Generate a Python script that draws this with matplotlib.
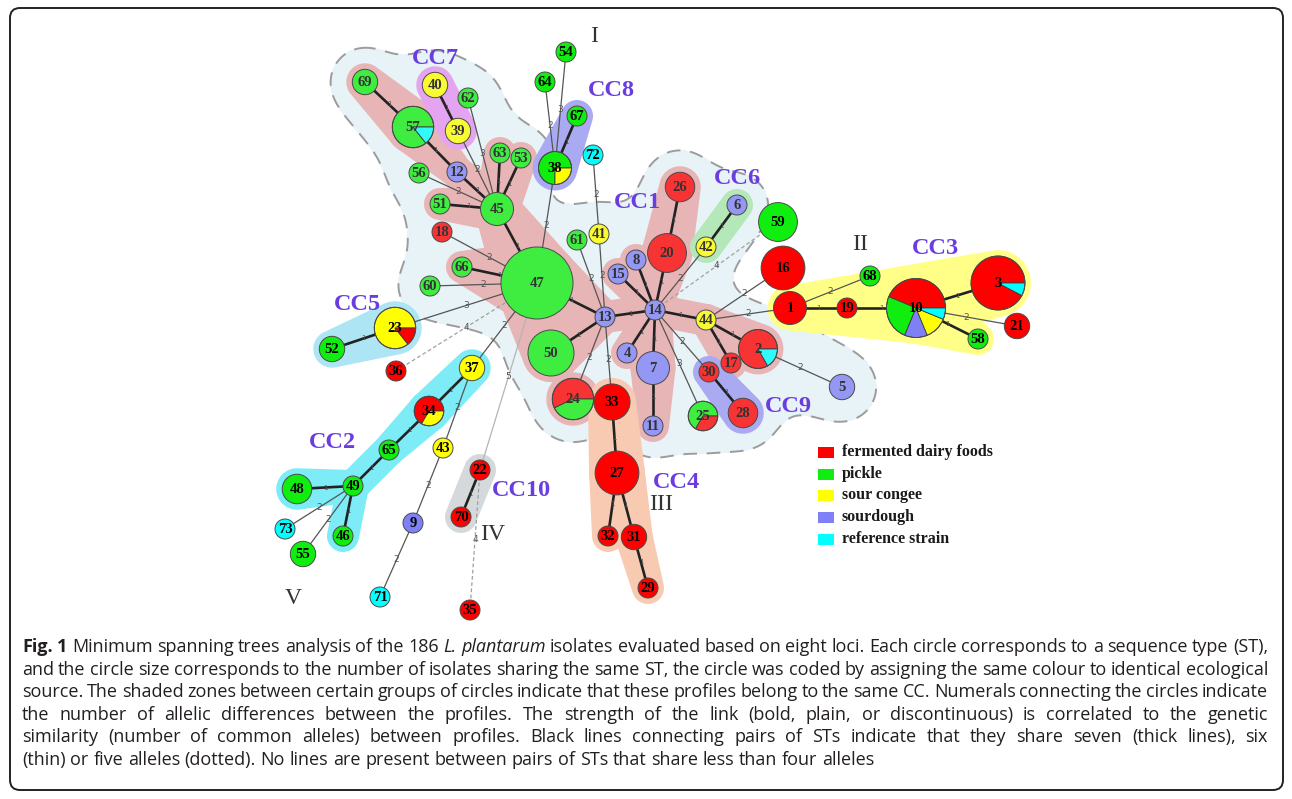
import numpy as np
import matplotlib
matplotlib.use("Agg")
import matplotlib.pyplot as plt
from matplotlib.patches import Wedge, Circle, Polygon, FancyBboxPatch, Rectangle

# ------------------------------------------------------------------
# sequence types (ST 1..73): position in the tree and isolates per source
# ------------------------------------------------------------------
st_ids = list(range(1, 74))
st_x = [790, 758, 998, 627, 842, 737, 653, 636, 413, 916,
        653, 457, 605, 655, 618, 783, 731, 442, 847, 667,
        1017, 480, 395, 573, 703, 680, 617, 743, 648, 709,
        634, 608, 612, 429, 470, 396, 472, 555, 458, 435,
        599, 706, 443, 706, 497, 343, 537, 297, 353, 551,
        440, 332, 521, 566, 303, 419, 413, 978, 778, 430,
        577, 468, 500, 545, 389, 462, 577, 870, 365, 461,
        380, 593, 285]
st_y = [308, 349, 283, 353, 387, 205, 368, 260, 523, 308,
        426, 172, 317, 310, 274, 268, 363, 232, 308, 253,
        326, 470, 328, 399, 416, 187, 473, 413, 588, 372,
        537, 536, 402, 411, 610, 371, 368, 168, 131, 85,
        234, 247, 448, 320, 209, 536, 283, 489, 486, 353,
        204, 349, 158, 52, 554, 173, 127, 339, 222, 286,
        240, 98, 153, 82, 450, 267, 116, 276, 82, 517,
        597, 155, 529]

n_dairy = [4, 5, 12, 0, 0, 0, 0, 0, 0, 7,
           0, 0, 0, 0, 0, 8, 1, 1, 1, 6,
           2, 1, 1, 4, 1, 3, 8, 3, 1, 1,
           2, 1, 5, 2, 1, 1, 0, 0, 0, 0,
           0, 0, 0, 0, 0, 0, 0, 0, 0, 0,
           0, 0, 0, 0, 0, 0, 0, 0, 0, 0,
           0, 0, 0, 0, 0, 0, 0, 0, 0, 1,
           0, 0, 0]
n_pickle = [0, 0, 0, 0, 0, 0, 0, 0, 0, 4,
            0, 0, 0, 0, 0, 0, 0, 0, 0, 0,
            0, 0, 0, 3, 2, 0, 0, 0, 0, 0,
            0, 0, 0, 0, 0, 0, 0, 3, 0, 0,
            0, 0, 0, 0, 4, 1, 25, 3, 1, 9,
            1, 2, 1, 1, 2, 1, 6, 1, 6, 1,
            1, 1, 1, 1, 1, 1, 1, 1, 2, 0,
            0, 0, 0]
n_congee = [0, 0, 0, 0, 0, 0, 0, 0, 0, 2,
            0, 0, 0, 0, 0, 0, 0, 0, 0, 0,
            0, 0, 6, 0, 0, 0, 0, 0, 0, 0,
            0, 0, 0, 1, 0, 0, 2, 1, 2, 2,
            1, 1, 1, 1, 0, 0, 0, 0, 0, 0,
            0, 0, 0, 0, 0, 0, 0, 0, 0, 0,
            0, 0, 0, 0, 0, 0, 0, 0, 0, 0,
            0, 0, 0]
n_sourdough = [0, 0, 0, 1, 2, 1, 4, 1, 1, 2,
               1, 1, 1, 1, 1, 0, 0, 0, 0, 0,
               0, 0, 0, 0, 0, 0, 0, 0, 0, 0,
               0, 0, 0, 0, 0, 0, 0, 0, 0, 0,
               0, 0, 0, 0, 0, 0, 0, 0, 0, 0,
               0, 0, 0, 0, 0, 0, 0, 0, 0, 0,
               0, 0, 0, 0, 0, 0, 0, 0, 0, 0,
               0, 0, 0]
n_reference = [0, 1, 1, 0, 0, 0, 0, 0, 0, 1,
               0, 0, 0, 0, 0, 0, 0, 0, 0, 0,
               0, 0, 0, 0, 0, 0, 0, 0, 0, 0,
               0, 0, 0, 0, 0, 0, 0, 0, 0, 0,
               0, 0, 0, 0, 0, 0, 0, 0, 0, 0,
               0, 0, 0, 0, 0, 0, 1, 0, 0, 0,
               0, 0, 0, 0, 0, 0, 0, 0, 0, 0,
               1, 1, 1]

# tree links: (ST a, ST b, number of allelic differences)
edge_a = [69, 57, 12, 40, 39, 62, 56, 63, 53, 51, 45, 18, 66, 60, 23, 36, 37, 22,
          38, 64, 54, 67, 72, 41, 61, 47, 50, 13, 24, 33, 14, 14, 14, 20, 14, 42,
          14, 14, 14, 14, 7, 14, 14, 30, 44, 44, 44, 44, 2, 1, 19, 1, 10, 10, 10,
          23, 37, 34, 65, 49, 49, 49, 49, 37, 43, 9, 22, 22, 33, 27, 27, 31]
edge_b = [57, 12, 45, 39, 45, 45, 45, 45, 45, 45, 47, 47, 47, 47, 47, 47, 47, 47,
          47, 38, 38, 38, 41, 13, 13, 13, 13, 14, 13, 13, 8, 15, 20, 26, 42, 6,
          59, 44, 4, 7, 11, 30, 25, 28, 17, 2, 16, 1, 5, 19, 10, 68, 3, 58, 21,
          52, 34, 65, 49, 48, 46, 73, 55, 43, 9, 71, 70, 35, 27, 32, 31, 29]
edge_w = [1, 1, 1, 1, 2, 3, 2, 1, 1, 1, 1, 2, 1, 2, 3, 4, 2, 5,
          2, 2, 3, 1, 2, 2, 2, 1, 1, 1, 2, 2, 1, 1, 1, 1, 2, 1,
          4, 1, 1, 1, 1, 2, 3, 1, 1, 1, 2, 2, 2, 1, 1, 2, 1, 1, 2,
          1, 1, 1, 1, 1, 1, 2, 2, 2, 2, 2, 1, 4, 1, 1, 1, 1]

# STs inside the large dashed group I
group_one = [69, 57, 40, 39, 62, 12, 56, 63, 53, 51, 45, 18, 66, 60, 47, 50, 61,
             41, 13, 14, 15, 8, 20, 26, 6, 42, 44, 4, 7, 11, 2, 17, 30, 28, 5, 24, 25]

# clonal complexes: groups of STs whose padded hulls make the shaded zone
cc_names = ["CC1", "CC7", "CC8", "CC6", "CC9", "CC3", "CC5", "CC2", "CC10", "CC4"]
cc_hulls = [
    [(69, 57), (57, 12), (12, 45), (45, 51), (45, 63), (45, 53), (45, 47), (47, 66),
     (47, 13), (47, 50), (50, 13), (13, 14), (14, 8), (14, 15), (14, 20), (20, 26),
     (14, 4), (14, 7), (7, 11), (14, 44), (44, 17), (44, 2), (24,)],
    [(40, 39)],
    [(38, 67)],
    [(42, 6)],
    [(30, 28)],
    [(1, 19, 10, 3), (10, 58)],
    [(23, 52)],
    [(37, 34), (34, 65), (65, 49), (49, 48), (49, 46)],
    [(22, 70)],
    [(33, 27), (27, 32), (27, 31), (31, 29)],
]
cc_colors = ["#e8b5b7", "#e4a4ef", "#a9aaf2", "#b5e8b8", "#a9aaf2",
             "#ffff88", "#ade5f5", "#7eecf7", "#d6d9db", "#f8cab2"]
cc_label_x = [637, 435, 611, 737, 788, 935, 357, 332, 521, 677]
cc_label_y = [202, 59, 90, 178, 407, 248, 305, 443, 491, 482]

group_names = ["I", "II", "III", "IV", "V"]
group_label_x = [594, 860, 661, 493, 293]
group_label_y = [37, 245, 505, 535, 598]

sources = ["fermented dairy foods", "pickle", "sour congee", "sourdough", "reference strain"]
source_colors = ["#ff0000", "#10ee10", "#ffff00", "#8080f6", "#00ffff"]

caption_lines = [
    "Fig. 1 Minimum spanning trees analysis of the 186 L. plantarum isolates evaluated based on eight loci. Each circle corresponds to a sequence type (ST),",
    "and the circle size corresponds to the number of isolates sharing the same ST, the circle was coded by assigning the same colour to identical ecological",
    "source. The shaded zones between certain groups of circles indicate that these profiles belong to the same CC. Numerals connecting the circles indicate",
    "the number of allelic differences between the profiles. The strength of the link (bold, plain, or discontinuous) is correlated to the genetic",
    "similarity (number of common alleles) between profiles. Black lines connecting pairs of STs indicate that they share seven (thick lines), six",
    "(thin) or five alleles (dotted). No lines are present between pairs of STs that share less than four alleles",
]

# ------------------------------------------------------------------
# derived values
# ------------------------------------------------------------------
counts = np.array([n_dairy, n_pickle, n_congee, n_sourdough, n_reference]).T
totals = counts.sum(axis=1)
radius = 3.5 + 6.5 * np.sqrt(totals)
pos = {s: (st_x[i], st_y[i]) for i, s in enumerate(st_ids)}
rad = {s: radius[i] for i, s in enumerate(st_ids)}
wedge_order = [0, 1, 3, 2, 4]  # tie break when counts are equal


def mix(c1, c2, f):
    a = np.array(matplotlib.colors.to_rgb(c1))
    b = np.array(matplotlib.colors.to_rgb(c2))
    return tuple(a * (1 - f) + b * f)


def padded_hull(ids, pad):
    ang = np.linspace(0, 2 * np.pi, 60, endpoint=False)
    pts = []
    for s in ids:
        x, y = pos[s]
        r = rad[s] + pad
        pts += [(x + r * np.cos(a), y + r * np.sin(a)) for a in ang]
    pts = sorted(set(pts))

    def cross(o, a, b):
        return (a[0] - o[0]) * (b[1] - o[1]) - (a[1] - o[1]) * (b[0] - o[0])

    lower, upper = [], []
    for p in pts:
        while len(lower) >= 2 and cross(lower[-2], lower[-1], p) <= 0:
            lower.pop()
        lower.append(p)
    for p in reversed(pts):
        while len(upper) >= 2 and cross(upper[-2], upper[-1], p) <= 0:
            upper.pop()
        upper.append(p)
    return lower[:-1] + upper[:-1]


# ------------------------------------------------------------------
# figure in pixel coordinates
# ------------------------------------------------------------------
W, H = 1292, 799
fig = plt.figure(figsize=(W / 100, H / 100), dpi=100)
ax = fig.add_axes([0, 0, 1, 1])
ax.set_xlim(0, W)
ax.set_ylim(H, 0)
ax.axis("off")

frame = FancyBboxPatch((10, 8), 1273, 782, boxstyle="round,pad=0,rounding_size=10",
                       fc="white", ec="#222222", lw=1.4, zorder=-5)
ax.add_patch(frame)

# group I zone: distance field around its STs and links, smoothed
xs = np.arange(230, 920, 2.0)
ys = np.arange(0, 480, 2.0)
gx, gy = np.meshgrid(xs, ys)
field = np.full(gx.shape, np.inf)
pad_one = 25
for s in group_one:
    x, y = pos[s]
    field = np.minimum(field, np.hypot(gx - x, gy - y) - (rad[s] + pad_one))
for a, b in zip(edge_a, edge_b):
    if a in group_one and b in group_one:
        (x1, y1), (x2, y2) = pos[a], pos[b]
        dx, dy = x2 - x1, y2 - y1
        t = np.clip(((gx - x1) * dx + (gy - y1) * dy) / (dx * dx + dy * dy), 0, 1)
        d = np.hypot(gx - (x1 + t * dx), gy - (y1 + t * dy))
        rr = rad[a] + t * (rad[b] - rad[a]) + pad_one
        field = np.minimum(field, d - rr)
mask = (field < 0).astype(float)
k = np.arange(-20, 21)
kern = np.exp(-0.5 * (k / 8.0) ** 2)
kern /= kern.sum()
mask = np.apply_along_axis(lambda v: np.convolve(v, kern, mode="same"), 0, mask)
mask = np.apply_along_axis(lambda v: np.convolve(v, kern, mode="same"), 1, mask)
ax.contourf(xs, ys, mask, levels=[0.5, 2], colors=["#e7f3f7"], zorder=0)
ax.contour(xs, ys, mask, levels=[0.5], colors="#9c9c9c", linewidths=1.4,
           linestyles=[(0, (7, 5))], zorder=0.5)

# clonal complex zones
for hulls, col in zip(cc_hulls, cc_colors):
    for ids in hulls:
        ax.add_patch(Polygon(padded_hull(ids, 6), closed=True, fc=col, ec="none", zorder=1))

# links
for a, b, w in zip(edge_a, edge_b, edge_w):
    (x1, y1), (x2, y2) = pos[a], pos[b]
    if w == 1:
        ax.plot([x1, x2], [y1, y2], color="#222222", lw=1.9, zorder=2)
    elif w <= 3:
        ax.plot([x1, x2], [y1, y2], color="#555555", lw=0.9, zorder=2)
    elif w == 4:
        ax.plot([x1, x2], [y1, y2], color="#a0a0a0", lw=0.9, ls=(0, (3, 2)), zorder=2)
    else:
        ax.plot([x1, x2], [y1, y2], color="#b4b4b4", lw=0.9, zorder=2)
    ax.text((x1 + x2) / 2, (y1 + y2) / 2, str(w), fontsize=5 if w == 1 else 6.5,
            color="#555555", ha="center", va="center", zorder=2.5)

# sequence type circles
for i, s in enumerate(st_ids):
    x, y = pos[s]
    r = rad[s]
    muted = s in group_one
    cols = [mix(c, "#dfe9ec", 0.22) if muted else c for c in source_colors]
    present = [j for j in wedge_order if counts[i, j] > 0]
    present.sort(key=lambda j: -counts[i, j])
    if len(present) == 1:
        ax.add_patch(Circle((x, y), r, fc=cols[present[0]], ec="#4a4a4a", lw=0.7, zorder=3))
    else:
        start = 0.0
        for j in present:
            span = 360.0 * counts[i, j] / totals[i]
            # y axis points down, so screen angles are mirrored
            ax.add_patch(Wedge((x, y), r, -(start + span), -start, fc=cols[j],
                               ec="#3a3a3a", lw=0.6, zorder=3))
            start += span
        ax.add_patch(Circle((x, y), r, fc="none", ec="#4a4a4a", lw=0.7, zorder=3.1))
    ax.text(x, y + 0.5, str(s), fontsize=10.5, fontweight="bold", family="Liberation Serif",
            color="#333333" if muted else "black", ha="center", va="center", zorder=4)

# CC and group labels
for name, x, y in zip(cc_names, cc_label_x, cc_label_y):
    ax.text(x, y, name, fontsize=17.5, fontweight="bold", family="Liberation Serif",
            color="#6a3de0", ha="center", va="center", zorder=5)
for name, x, y in zip(group_names, group_label_x, group_label_y):
    ax.text(x, y, name, fontsize=17, family="Liberation Serif", color="#333333",
            ha="center", va="center", zorder=5)

# legend
for j, (name, col) in enumerate(zip(sources, source_colors)):
    ly = 452 + j * 21.7
    ax.add_patch(Rectangle((818, ly - 5), 16, 11, fc=col, ec="none", zorder=5))
    ax.text(842, ly, name, fontsize=11.5, fontweight="bold", family="Liberation Serif",
            color="#1a1a1a", ha="left", va="center", zorder=5)

# caption, justified like the journal layout
renderer = fig.canvas.get_renderer()
left, right = 22, 1268


def width_of(t):
    return t.get_window_extent(renderer).width


def place_line(li, line, size):
    font = dict(fontsize=size, family="Open Sans", color="#231f20")
    y = 652 + li * 22.6
    words = line.split(" ")
    texts = []
    for wi, word in enumerate(words):
        kw = dict(font)
        if li == 0 and wi < 2:
            kw["fontweight"] = "bold"
        if word in ("L.", "plantarum"):
            kw["style"] = "italic"
        texts.append(ax.text(0, y, word, ha="left", va="baseline", zorder=5, **kw))
    widths = [width_of(t) for t in texts]
    space = size * 100 / 72 * 0.26
    if li < len(caption_lines) - 1:
        gap = (right - left - sum(widths)) / (len(words) - 1)
    else:
        gap = space
    if gap < 0.7 * space:
        for t in texts:
            t.remove()
        return place_line(li, line, size - 0.2)
    x = left
    for t, wd in zip(texts, widths):
        t.set_x(x)
        x += wd + gap


for li, line in enumerate(caption_lines):
    place_line(li, line, 13.0)

fig.savefig("out.png", dpi=100)
